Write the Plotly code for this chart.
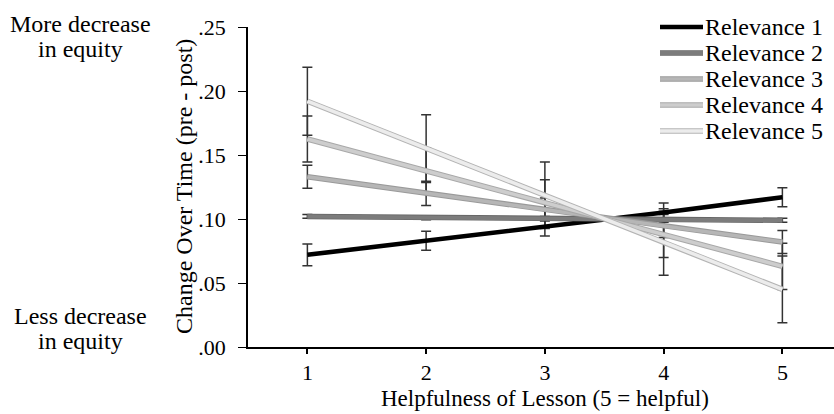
import plotly.graph_objects as go

# ---- data ----
helpfulness = [1, 2, 3, 4, 5]
series_names = ["Relevance 1", "Relevance 2", "Relevance 3", "Relevance 4", "Relevance 5"]
rel1 = [0.072, 0.083, 0.094, 0.105, 0.117]
rel2 = [0.102, 0.101, 0.1005, 0.0995, 0.099]
rel3 = [0.133, 0.120, 0.1075, 0.0945, 0.082]
rel4 = [0.1625, 0.1375, 0.1127, 0.088, 0.063]
rel5 = [0.192, 0.155, 0.1185, 0.082, 0.045]
err1 = [0.0085, 0.0075, 0.0072, 0.0075, 0.0075]
err2 = [0.0015, 0.0015, 0.0015, 0.0015, 0.0015]
err3 = [0.009, 0.0094, 0.009, 0.009, 0.009]
err4 = [0.018, 0.018, 0.018, 0.018, 0.018]
err5 = [0.0265, 0.0265, 0.026, 0.026, 0.026]
y_tickvals = [0, 0.05, 0.10, 0.15, 0.20, 0.25]
y_ticktext = [".00", ".05", ".10", ".15", ".20", ".25"]
x_tickvals = [1, 2, 3, 4, 5]
y_title = "Change Over Time (pre - post)"
x_title = "Helpfulness of Lesson (5 = helpful)"
top_label = ["More decrease", "in equity"]
bottom_label = ["Less decrease", "in equity"]

values = [rel1, rel2, rel3, rel4, rel5]
errors = [err1, err2, err3, err4, err5]

FONT = "Liberation Serif, Times New Roman, serif"
# (outline colour, outline width, main colour, main width)
styles = [
    (None, 0, "#000000", 4.5),
    ("#666666", 5.5, "#7c7c7c", 4),
    ("#9a9a9a", 5.5, "#b6b6b6", 3.5),
    ("#a8a8a8", 5.5, "#cdcdcd", 3.5),
    ("#b4b4b4", 5.5, "#ececec", 3.5),
]

fig = go.Figure()

# error bars
for vals, errs in zip(values, errors):
    fig.add_trace(go.Scatter(
        x=helpfulness, y=vals, mode="markers",
        marker=dict(size=1, color="rgba(0,0,0,0)"),
        error_y=dict(type="data", array=errs, visible=True,
                     color="#333333", thickness=1.5, width=5),
        showlegend=False, hoverinfo="skip"))

# lines
for name, vals, (oc, ow, mc, mw) in zip(series_names, values, styles):
    if oc:
        fig.add_trace(go.Scatter(x=helpfulness, y=vals, mode="lines",
                                 line=dict(color=oc, width=ow),
                                 showlegend=False, hoverinfo="skip"))
    fig.add_trace(go.Scatter(x=helpfulness, y=vals, mode="lines", name=name,
                             line=dict(color=mc, width=mw), showlegend=False))

# manual legend
leg_y0 = 27
leg_dy = 26
H = 414
top_m, bot_m = 27, 67
ph = H - top_m - bot_m
shapes = []
annotations = []
for i, (name, (oc, ow, mc, mw)) in enumerate(zip(series_names, styles)):
    ypix = leg_y0 + i * leg_dy
    yp = (H - bot_m - ypix) / ph
    x0 = (660 - 248) / 586
    x1 = (703 - 248) / 586
    if oc:
        shapes.append(dict(type="line", xref="paper", yref="paper", x0=x0, x1=x1,
                           y0=yp, y1=yp, line=dict(color=oc, width=ow)))
    shapes.append(dict(type="line", xref="paper", yref="paper", x0=x0, x1=x1,
                       y0=yp, y1=yp, line=dict(color=mc, width=mw)))
    annotations.append(dict(text=name, xref="paper", yref="paper", x=x1, y=yp,
                            xanchor="left", yanchor="middle", showarrow=False,
                            font=dict(family=FONT, size=24, color="black")))

# side labels
for txt, ypix in zip(top_label + bottom_label, [24, 49, 316, 341]):
    annotations.append(dict(text=txt, xref="paper", yref="paper", x=0,
                            xshift=80 - 248, y=(H - bot_m - ypix) / ph,
                            xanchor="center", yanchor="middle", showarrow=False,
                            font=dict(family=FONT, size=24, color="black")))

# axis titles
annotations.append(dict(text=y_title, xref="paper", yref="paper", x=0, xshift=184 - 248,
                        y=0.5, textangle=-90, xanchor="center",
                        yanchor="middle", showarrow=False,
                        font=dict(family=FONT, size=24, color="black")))
annotations.append(dict(text=x_title, xref="x", yref="paper", x=3, y=0,
                        yshift=-(bot_m - 2), borderpad=0,
                        xanchor="center", yanchor="bottom", showarrow=False,
                        font=dict(family=FONT, size=23, color="black")))

fig.update_layout(
    width=834, height=414,
    margin=dict(l=248, r=0, t=top_m, b=bot_m),
    paper_bgcolor="white", plot_bgcolor="white",
    showlegend=False,
    shapes=shapes, annotations=annotations,
    font=dict(family=FONT, color="black"),
    xaxis=dict(range=[0.5, 0.5 + 586 / 118.75], tickvals=x_tickvals,
               showgrid=False, zeroline=False, showline=True, linecolor="black",
               linewidth=1.5, ticks="outside", ticklen=5, tickwidth=1.5,
               tickcolor="black", tickfont=dict(family=FONT, size=22)),
    yaxis=dict(range=[0, 0.25], tickvals=y_tickvals, ticktext=y_ticktext,
               showgrid=False, zeroline=False, showline=True, linecolor="black",
               linewidth=1.5, ticks="outside", ticklen=8, tickwidth=1,
               tickcolor="black", ticklabelstandoff=8,
               tickfont=dict(family=FONT, size=22)),
)

fig.write_html(
    "out.html",
    config={"displayModeBar": False},
    post_script="document.body.style.margin='0';document.body.style.overflow='hidden';",
)
